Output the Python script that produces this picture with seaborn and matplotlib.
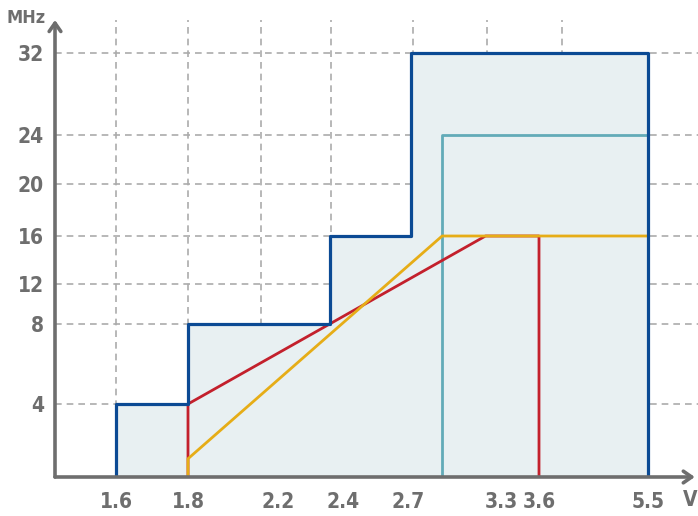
import numpy as np
import matplotlib
matplotlib.use("Agg")
import matplotlib.pyplot as plt
import seaborn as sns

# --- data ---
tick_volts = [1.6, 1.8, 2.2, 2.4, 2.7, 3.3, 3.6, 5.5]
tick_labels = ["1.6", "1.8", "2.2", "2.4", "2.7", "3.3", "3.6", "5.5"]
tick_mhz = [4, 8, 12, 16, 20, 24, 32]

# outer envelope (step)
env_volts = [1.6, 1.8, 2.36, 2.72, 5.5]
env_mhz = [4, 8, 16, 32]

# red range
red_volts = [1.8, 1.8, 3.2, 3.6, 3.6]
red_mhz = [0, 4, 16, 16, 0]

# yellow range
yel_volts = [1.8, 1.8, 2.92, 5.5]
yel_mhz = [0, 1, 16, 16]

# teal range
teal_volts = [2.92, 2.92, 5.5, 5.5]
teal_mhz = [0, 24, 24, 0]

# --- non-linear axis scales (knots in pixel units) ---
x_knot_v = [1.4] + tick_volts + [6.5]
x_knot_p = [44, 116, 188, 278, 343, 408, 501, 539, 648, 705]
y_knot_f = [0] + tick_mhz + [40]
y_knot_p = [0, 73, 153, 193, 241, 293, 342, 424, 506]
grid_px = [116, 188, 261, 331, 413, 487, 562]


def xf(v):
    return np.interp(v, x_knot_v, x_knot_p)


def xi(p):
    return np.interp(p, x_knot_p, x_knot_v)


def yf(v):
    return np.interp(v, y_knot_f, y_knot_p)


def yi(p):
    return np.interp(p, y_knot_p, y_knot_f)


BLUE = "#0b4a94"
FILL = "#e8f0f2"
TEAL = "#62abb8"
RED = "#c3202c"
YEL = "#e6ad17"
GREY = "#6e6e6e"
GRID = "#ababab"

sns.set_theme(style="white")
plt.rcParams["font.family"] = ["DejaVu Sans"]
plt.rcParams["font.stretch"] = "condensed"
plt.rcParams["font.weight"] = "bold"

fig = plt.figure(figsize=(6.98, 5.16), dpi=100)
ax = fig.add_axes([55 / 698, 39 / 516, 643 / 698, 457 / 516])
ax.set_xscale("function", functions=(xf, xi))
ax.set_yscale("function", functions=(yf, yi))
ax.set_xlim(xi(55), xi(698))
ax.set_ylim(0, yi(457))

# envelope polygon from the step data
ex, ey = [env_volts[0]], [0]
for i, f in enumerate(env_mhz):
    ex += [env_volts[i], env_volts[i + 1]]
    ey += [f, f]
ex.append(env_volts[-1])
ey.append(0)

ax.fill(ex, ey, color=FILL, zorder=1, lw=0)
sns.lineplot(x=teal_volts, y=teal_mhz, sort=False, estimator=None, color=TEAL, lw=2.0, ax=ax, zorder=3)
sns.lineplot(x=red_volts, y=red_mhz, sort=False, estimator=None, color=RED, lw=2.0, ax=ax, zorder=4)
sns.lineplot(x=yel_volts, y=yel_mhz, sort=False, estimator=None, color=YEL, lw=2.0, ax=ax, zorder=5)
sns.lineplot(x=ex, y=ey, sort=False, estimator=None, color=BLUE, lw=2.3, ax=ax, zorder=6)

# grid: horizontal at ticks, vertical on the schematic spacing
ax.set_yticks(tick_mhz)
ax.set_xticks(tick_volts)
ax.set_xticklabels(tick_labels)
ax.xaxis.remove_overlapping_locs = False
ax.set_xticks(xi(grid_px), minor=True)
ax.grid(False)
ax.yaxis.grid(True, which="major", color=GRID, ls=(0, (4, 3)), lw=1.2, zorder=0)
ax.xaxis.grid(True, which="minor", color=GRID, ls=(0, (4, 3)), lw=1.2, zorder=0)
ax.set_axisbelow(True)

ax.tick_params(which="both", length=0)
ax.tick_params(axis="x", pad=11, labelsize=15, labelcolor=GREY)
ax.tick_params(axis="y", pad=8, labelsize=15, labelcolor=GREY)

for s in ["top", "right", "left", "bottom"]:
    ax.spines[s].set_visible(False)

# axes with arrow heads
ax.annotate("", xy=(0.995, 0), xytext=(0, 0), xycoords="axes fraction",
            arrowprops=dict(arrowstyle="->,head_length=0.5,head_width=0.35", lw=2.6,
                            color=GREY, shrinkA=0, shrinkB=0), zorder=7, annotation_clip=False)
ax.annotate("", xy=(0, 1.0), xytext=(0, 0), xycoords="axes fraction",
            arrowprops=dict(arrowstyle="->,head_length=0.5,head_width=0.35", lw=2.6,
                            color=GREY, shrinkA=0, shrinkB=0), zorder=7, annotation_clip=False)

fig.text(26 / 698, 1 - 18 / 516, "MHz", ha="center", va="center", fontsize=13, color=GREY)
fig.text(690 / 698, 1 - 500 / 516, "V", ha="center", va="center", fontsize=15, color=GREY)

fig.savefig("out.png", dpi=100)
